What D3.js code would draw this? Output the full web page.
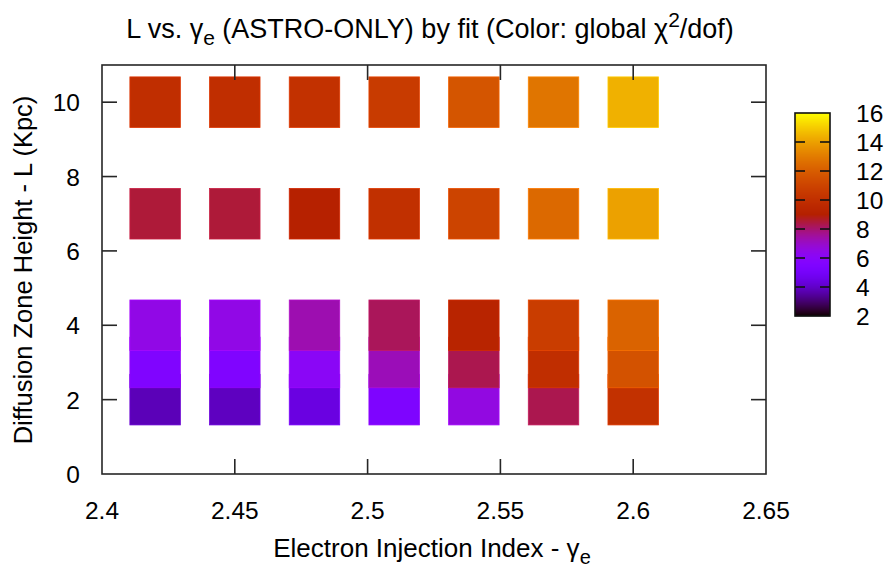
<!DOCTYPE html>
<html>
<head>
<meta charset="utf-8">
<script src="https://cdn.jsdelivr.net/npm/d3@7"></script>
<style>
  html, body { margin: 0; padding: 0; background: #fff; }
  svg text { font-family: "Liberation Sans", Arial, Helvetica, sans-serif; fill: #000; }
</style>
</head>
<body>
<svg id="chart" width="891" height="572"></svg>
<script>
// ---- data ----
const gammaValues = [2.42, 2.45, 2.48, 2.51, 2.54, 2.57, 2.60];
const heightValues = [2, 3, 4, 7, 10];
const chi2_L2  = [3.8, 3.9, 4.4, 5.4, 6.6, 8.3, 10.1];
const chi2_L3  = [5.5, 5.5, 6.1, 7.2, 8.3, 9.9, 11.6];
const chi2_L4  = [6.5, 6.5, 7.3, 8.2, 9.3, 10.7, 12.2];
const chi2_L7  = [8.5, 8.5, 9.1, 10.0, 11.0, 12.4, 14.0];
const chi2_L10 = [9.9, 9.9, 10.1, 10.6, 11.7, 12.8, 14.4];
const xTicks = [2.4, 2.45, 2.5, 2.55, 2.6, 2.65];
const xTickLabels = ["2.4", "2.45", "2.5", "2.55", "2.6", "2.65"];
const yTicks = [0, 2, 4, 6, 8, 10];
const cbTicks = [2, 4, 6, 8, 10, 12, 14, 16];

const chi2ByL = [chi2_L2, chi2_L3, chi2_L4, chi2_L7, chi2_L10];
const cells = [];
heightValues.forEach((L, i) => {
  gammaValues.forEach((g, j) => cells.push({ g, L, v: chi2ByL[i][j] }));
});

// ---- layout ----
const svg = d3.select("#chart");
const plot = { left: 102, right: 766, top: 65, bottom: 474 };
const x = d3.scaleLinear().domain([2.4, 2.65]).range([plot.left, plot.right]);
const y = d3.scaleLinear().domain([0, 11]).range([plot.bottom, plot.top]);
const halfW = 0.0095, halfH = 0.68;

// gnuplot rgbformulae 7,5,15 palette
function pal(t) {
  t = Math.max(0, Math.min(1, t));
  const r = Math.sqrt(t), g = t * t * t, b = Math.max(0, Math.sin(2 * Math.PI * t));
  return d3.rgb(r * 255, g * 255, b * 255).toString();
}
const cNorm = d3.scaleLinear().domain([2, 16]).range([0, 1]).clamp(true);
const color = v => pal(cNorm(v));

const tickFont = 24.5;
const labelFont = 26;
const titleFont = 27;
const axisColor = "#262626";

// ---- cells ----
svg.append("g").selectAll("rect").data(cells).join("rect")
  .attr("x", d => x(d.g - halfW))
  .attr("y", d => y(d.L + halfH))
  .attr("width", d => x(d.g + halfW) - x(d.g - halfW))
  .attr("height", d => y(d.L - halfH) - y(d.L + halfH))
  .attr("fill", d => color(d.v))
  .attr("stroke", d => d3.rgb(color(d.v)).brighter(0.4))
  .attr("stroke-width", 0.8);

// ---- frame and ticks ----
const tickLen = 15;
const axG = svg.append("g").attr("stroke", axisColor).attr("stroke-width", 1.6).attr("fill", "none");
axG.append("rect").attr("x", plot.left).attr("y", plot.top)
  .attr("width", plot.right - plot.left).attr("height", plot.bottom - plot.top);
xTicks.slice(1, -1).forEach(t => {
  axG.append("line").attr("x1", x(t)).attr("x2", x(t)).attr("y1", plot.bottom).attr("y2", plot.bottom - tickLen);
  axG.append("line").attr("x1", x(t)).attr("x2", x(t)).attr("y1", plot.top).attr("y2", plot.top + tickLen);
});
yTicks.slice(1).forEach(t => {
  axG.append("line").attr("x1", plot.left).attr("x2", plot.left + tickLen).attr("y1", y(t)).attr("y2", y(t));
  axG.append("line").attr("x1", plot.right).attr("x2", plot.right - tickLen).attr("y1", y(t)).attr("y2", y(t));
});

// tick labels
svg.append("g").selectAll("text").data(xTicks).join("text")
  .attr("x", d => x(d)).attr("y", 519)
  .attr("text-anchor", "middle").attr("font-size", tickFont)
  .text((d, i) => xTickLabels[i]);
svg.append("g").selectAll("text").data(yTicks).join("text")
  .attr("x", 80).attr("y", d => y(d) + 9)
  .attr("text-anchor", "end").attr("font-size", tickFont)
  .text(d => d);

// axis titles
const xl = svg.append("text").attr("x", 432).attr("y", 557)
  .attr("text-anchor", "middle").attr("font-size", labelFont);
xl.append("tspan").text("Electron Injection Index - γ");
xl.append("tspan").attr("dy", 7).attr("font-size", 20).text("e");

svg.append("text")
  .attr("transform", "translate(32,270) rotate(-90)")
  .attr("text-anchor", "middle").attr("font-size", 25.5)
  .text("Diffusion Zone Height - L (Kpc)");

// title
const tt = svg.append("text").attr("x", 430).attr("y", 38)
  .attr("text-anchor", "middle").attr("font-size", titleFont);
tt.append("tspan").text("L vs. γ");
tt.append("tspan").attr("dy", 7).attr("font-size", 21).text("e");
tt.append("tspan").attr("dy", -7).text(" (ASTRO-ONLY) by fit (Color: global χ");
tt.append("tspan").attr("dy", -11).attr("font-size", 21).text("2");
tt.append("tspan").attr("dy", 11).text("/dof)");

// ---- colorbar ----
const cb = { left: 795, right: 830, top: 113, bottom: 316 };
const cy = d3.scaleLinear().domain([2, 16]).range([cb.bottom, cb.top]);
const steps = d3.range(cb.top, cb.bottom, 1);
svg.append("g").selectAll("rect").data(steps).join("rect")
  .attr("x", cb.left).attr("y", d => d).attr("width", cb.right - cb.left).attr("height", 1.2)
  .attr("fill", d => color(cy.invert(d + 0.5)));
const cbG = svg.append("g").attr("stroke", "#111").attr("stroke-width", 1.6).attr("fill", "none");
cbG.append("rect").attr("x", cb.left).attr("y", cb.top)
  .attr("width", cb.right - cb.left).attr("height", cb.bottom - cb.top);
cbTicks.slice(1, -1).forEach(t => {
  cbG.append("line").attr("x1", cb.left).attr("x2", cb.left + 10).attr("y1", cy(t)).attr("y2", cy(t));
  cbG.append("line").attr("x1", cb.right).attr("x2", cb.right - 10).attr("y1", cy(t)).attr("y2", cy(t));
});
svg.append("g").selectAll("text").data(cbTicks).join("text")
  .attr("x", 856).attr("y", d => cy(d) + 9)
  .attr("font-size", tickFont)
  .text(d => d);
</script>
</body>
</html>
